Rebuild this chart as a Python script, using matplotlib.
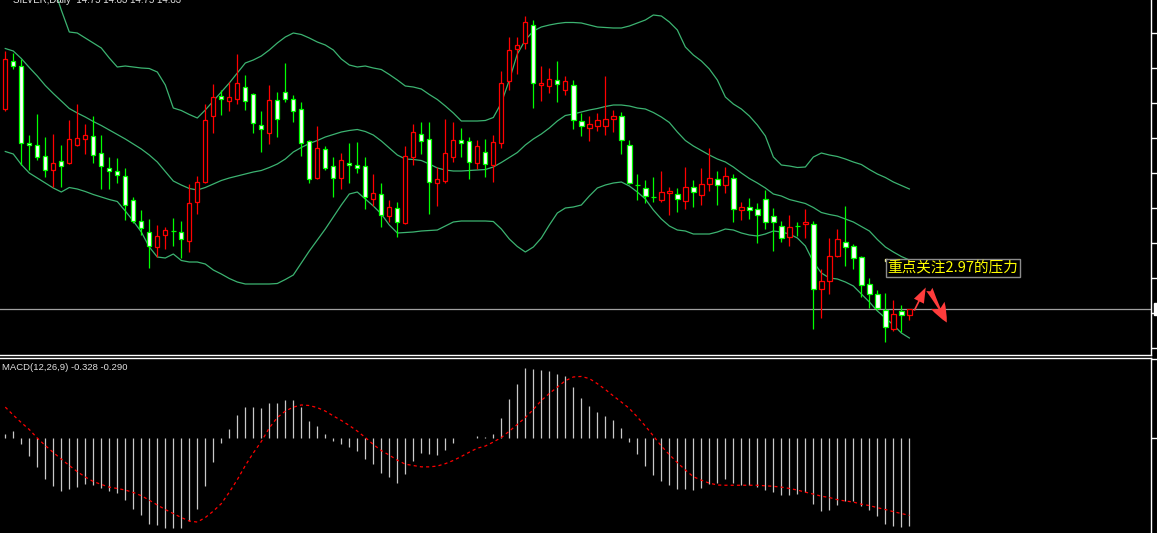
import numpy as np
import matplotlib.pyplot as plt
from matplotlib.patches import Rectangle, FancyArrowPatch

plt.rcParams['font.family'] = ['Noto Sans CJK SC', 'DejaVu Sans']

# daily candles (price)
opens = [16.91, 17.39, 17.34, 16.57, 16.55, 16.44, 16.30, 16.39, 16.37, 16.55,
         16.61, 16.64, 16.47, 16.32, 16.29, 16.24, 16.00, 15.79, 15.68, 15.53,
         15.65, 15.69, 15.68, 15.59, 15.98, 16.18, 16.84, 17.04, 16.99, 17.01,
         17.13, 17.06, 16.75, 16.67, 17.00, 17.08, 17.01, 16.91, 16.59, 16.22,
         16.51, 16.34, 16.22, 16.37, 16.35, 16.34, 16.01, 16.06, 15.84, 15.92,
         15.77, 16.43, 16.66, 16.61, 16.17, 16.19, 16.43, 16.60, 16.59, 16.37,
         16.48, 16.35, 16.57, 17.19, 17.51, 17.57, 17.75, 17.15, 17.14, 17.20,
         17.10, 17.15, 16.79, 16.72, 16.74, 16.74, 16.81, 16.84, 16.55, 16.15,
         16.12, 16.03, 16.00, 16.07, 16.06, 15.99, 16.13, 16.05, 16.16, 16.21,
         16.15, 16.22, 15.90, 15.93, 15.91, 16.01, 15.84, 15.74, 15.63, 15.74,
         15.76, 15.76, 15.11, 15.19, 15.44, 15.58, 15.54, 15.43, 15.16, 15.06,
         14.90, 14.71, 14.89, 14.85]
highs = [17.49, 17.47, 17.41, 16.65, 16.86, 16.63, 16.66, 16.55, 16.80, 16.96,
         16.76, 16.84, 16.65, 16.43, 16.42, 16.32, 16.03, 15.90, 15.81, 15.75,
         15.73, 15.82, 15.79, 16.16, 16.24, 16.96, 17.16, 17.10, 17.18, 17.46,
         17.25, 17.07, 16.89, 17.15, 17.08, 17.37, 17.05, 16.98, 16.60, 16.74,
         16.54, 16.43, 16.47, 16.57, 16.58, 16.43, 16.26, 16.17, 16.00, 15.98,
         16.54, 16.76, 16.78, 16.78, 16.33, 16.81, 16.78, 16.72, 16.63, 16.60,
         16.61, 16.65, 17.29, 17.63, 17.63, 17.84, 17.80, 17.34, 17.32, 17.39,
         17.24, 17.20, 16.87, 16.84, 16.87, 17.24, 16.90, 16.88, 16.60, 16.26,
         16.20, 16.23, 16.29, 16.13, 16.12, 16.33, 16.20, 16.32, 16.52, 16.29,
         16.33, 16.26, 15.98, 16.02, 15.97, 16.10, 15.92, 15.79, 15.85, 15.78,
         15.91, 15.79, 15.31, 15.62, 15.71, 15.94, 15.56, 15.44, 15.22, 15.10,
         15.07, 15.00, 14.95, 14.91]
lows = [16.89, 17.31, 16.35, 16.30, 16.40, 16.23, 16.13, 16.13, 16.36, 16.54,
        16.46, 16.37, 16.11, 16.11, 16.17, 15.80, 15.77, 15.65, 15.32, 15.43,
        15.51, 15.54, 15.42, 15.48, 15.86, 16.17, 16.67, 16.85, 16.89, 16.96,
        16.90, 16.67, 16.48, 16.56, 16.63, 16.98, 16.78, 16.44, 16.17, 16.21,
        16.30, 16.03, 16.11, 16.17, 16.27, 15.91, 15.94, 15.73, 15.78, 15.63,
        15.76, 16.35, 16.46, 15.86, 15.94, 16.17, 16.38, 16.43, 16.21, 16.31,
        16.23, 16.18, 16.52, 17.10, 17.26, 17.51, 16.92, 16.99, 17.07, 16.98,
        17.05, 16.71, 16.64, 16.59, 16.69, 16.65, 16.68, 16.46, 16.16, 16.00,
        15.97, 15.98, 15.98, 15.85, 15.88, 15.91, 15.93, 15.95, 16.09, 15.95,
        16.07, 15.78, 15.80, 15.81, 15.57, 15.71, 15.49, 15.58, 15.54, 15.64,
        15.62, 14.71, 14.82, 15.06, 15.43, 15.34, 15.31, 15.03, 14.92, 14.90,
        14.58, 14.69, 14.68, 14.80]
closes = [17.41, 17.34, 16.57, 16.55, 16.43, 16.30, 16.37, 16.34, 16.61, 16.62,
          16.65, 16.45, 16.34, 16.29, 16.25, 15.95, 15.79, 15.72, 15.54, 15.64,
          15.70, 15.69, 15.61, 15.97, 16.18, 16.80, 17.03, 17.01, 17.03, 17.17,
          16.99, 16.77, 16.71, 17.00, 16.81, 17.01, 16.89, 16.57, 16.21, 16.52,
          16.32, 16.22, 16.40, 16.35, 16.32, 16.03, 16.07, 15.85, 15.93, 15.78,
          16.44, 16.68, 16.59, 16.18, 16.21, 16.47, 16.60, 16.57, 16.38, 16.54,
          16.36, 16.58, 17.17, 17.50, 17.55, 17.78, 17.17, 17.17, 17.21, 17.16,
          17.19, 16.80, 16.74, 16.76, 16.80, 16.81, 16.84, 16.60, 16.17, 16.15,
          16.04, 16.03, 16.08, 16.09, 16.01, 16.13, 16.08, 16.16, 16.22, 16.15,
          16.24, 15.91, 15.93, 15.90, 15.85, 15.78, 15.78, 15.62, 15.73, 15.74,
          15.78, 15.11, 15.19, 15.44, 15.61, 15.53, 15.42, 15.15, 15.06, 14.92,
          14.73, 14.86, 14.85, 14.91]

# Bollinger bands (20,2)
bb_upper = [18.90, 18.85, 18.78, 18.68, 18.55, 18.37, 18.14, 17.90, 17.68, 17.67,
            17.62, 17.57, 17.52, 17.42, 17.33, 17.34, 17.33, 17.32, 17.315, 17.28,
            17.15, 16.92, 16.895, 16.855, 16.82, 16.90, 16.99, 17.08, 17.17, 17.27,
            17.37, 17.40, 17.44, 17.50, 17.57, 17.63, 17.67, 17.655, 17.62, 17.58,
            17.55, 17.50, 17.41, 17.35, 17.33, 17.34, 17.32, 17.305, 17.255, 17.20,
            17.14, 17.13, 17.11, 17.055, 17.005, 16.94, 16.87, 16.79, 16.79, 16.79,
            16.795, 16.825, 16.97, 17.20, 17.46, 17.60, 17.69, 17.73, 17.75, 17.765,
            17.775, 17.775, 17.77, 17.75, 17.73, 17.725, 17.72, 17.72, 17.74, 17.77,
            17.80, 17.85, 17.84, 17.78, 17.70, 17.53, 17.45, 17.39, 17.31, 17.20,
            17.03, 16.96, 16.91, 16.84, 16.75, 16.64, 16.43, 16.35, 16.34, 16.325,
            16.33, 16.43, 16.47, 16.45, 16.435, 16.41, 16.38, 16.355, 16.305, 16.26,
            16.225, 16.18, 16.145, 16.11]
bb_middle = [17.515, 17.49, 17.415, 17.325, 17.24, 17.145, 17.065, 16.99, 16.915, 16.87,
             16.83, 16.785, 16.745, 16.70, 16.655, 16.61, 16.56, 16.51, 16.45, 16.38,
             16.285, 16.19, 16.15, 16.115, 16.10, 16.125, 16.16, 16.195, 16.22, 16.24,
             16.26, 16.28, 16.295, 16.325, 16.36, 16.41, 16.48, 16.525, 16.565, 16.595,
             16.63, 16.655, 16.68, 16.695, 16.705, 16.685, 16.65, 16.59, 16.52, 16.45,
             16.41, 16.405, 16.395, 16.36, 16.32, 16.30, 16.29, 16.29, 16.295, 16.30,
             16.305, 16.33, 16.375, 16.425, 16.475, 16.55, 16.61, 16.66, 16.72, 16.79,
             16.845, 16.86, 16.88, 16.90, 16.915, 16.935, 16.95, 16.95, 16.94, 16.92,
             16.91, 16.875, 16.83, 16.775, 16.68, 16.595, 16.54, 16.495, 16.45, 16.41,
             16.38, 16.33, 16.27, 16.215, 16.17, 16.12, 16.06, 16.04, 16.005, 15.985,
             15.965, 15.925, 15.875, 15.855, 15.84, 15.81, 15.78, 15.735, 15.69, 15.605,
             15.53, 15.48, 15.435, 15.40]
bb_lower = [16.485, 16.46, 16.355, 16.27, 16.22, 16.17, 16.12, 16.08, 16.125, 16.11,
            16.085, 16.055, 16.03, 16.005, 15.985, 15.89, 15.79, 15.68, 15.53, 15.43,
            15.42, 15.46, 15.395, 15.38, 15.38, 15.36, 15.30, 15.26, 15.215, 15.18,
            15.16, 15.16, 15.16, 15.16, 15.165, 15.205, 15.25, 15.37, 15.49, 15.60,
            15.71, 15.83, 15.95, 16.06, 16.08, 16.01, 15.94, 15.86, 15.75, 15.67,
            15.675, 15.68, 15.69, 15.695, 15.70, 15.74, 15.78, 15.79, 15.79, 15.79,
            15.79, 15.785, 15.71, 15.61, 15.535, 15.48, 15.53, 15.62, 15.75, 15.87,
            15.92, 15.93, 15.95, 16.04, 16.12, 16.15, 16.17, 16.18, 16.14, 16.08,
            16.01, 15.90, 15.81, 15.74, 15.70, 15.69, 15.66, 15.66, 15.66, 15.68,
            15.71, 15.70, 15.67, 15.65, 15.64, 15.66, 15.69, 15.68, 15.66, 15.62,
            15.54, 15.38, 15.27, 15.22, 15.21, 15.18, 15.14, 15.06, 14.98, 14.89,
            14.82, 14.75, 14.67, 14.62]

# MACD(12,26,9): histogram (main) and signal
macd_main = [0.015, 0.027, -0.021, -0.068, -0.108, -0.153, -0.180, -0.198, -0.190, -0.183,
             -0.173, -0.175, -0.188, -0.198, -0.206, -0.233, -0.265, -0.289, -0.324, -0.326,
             -0.339, -0.339, -0.339, -0.310, -0.265, -0.179, -0.089, -0.018, 0.034, 0.086,
             0.116, 0.116, 0.113, 0.132, 0.132, 0.143, 0.143, 0.116, 0.065, 0.045,
             0.016, -0.010, -0.023, -0.033, -0.048, -0.078, -0.098, -0.130, -0.145, -0.170,
             -0.135, -0.086, -0.055, -0.060, -0.064, -0.045, -0.018, 0.000, 0.002, 0.008,
             0.004, 0.015, 0.075, 0.146, 0.204, 0.263, 0.259, 0.255, 0.251, 0.240,
             0.233, 0.191, 0.150, 0.120, 0.098, 0.083, 0.068, 0.038, -0.015, -0.060,
             -0.105, -0.139, -0.161, -0.176, -0.191, -0.191, -0.195, -0.188, -0.173, -0.169,
             -0.154, -0.169, -0.176, -0.176, -0.184, -0.195, -0.203, -0.214, -0.214, -0.210,
             -0.203, -0.248, -0.274, -0.270, -0.251, -0.236, -0.236, -0.255, -0.270, -0.293,
             -0.323, -0.330, -0.334, -0.328]
macd_signal = [0.116, 0.086, 0.058, 0.032, 0.000, -0.028, -0.054, -0.079, -0.103, -0.126,
               -0.146, -0.163, -0.174, -0.184, -0.189, -0.195, -0.204, -0.216, -0.233, -0.251,
               -0.268, -0.283, -0.298, -0.311, -0.315, -0.298, -0.274, -0.246, -0.203, -0.156,
               -0.103, -0.056, -0.013, 0.038, 0.077, 0.101, 0.116, 0.124, 0.122, 0.114,
               0.101, 0.083, 0.066, 0.047, 0.026, 0.002, -0.024, -0.047, -0.064, -0.083,
               -0.098, -0.103, -0.108, -0.108, -0.105, -0.096, -0.084, -0.069, -0.053, -0.038,
               -0.030, -0.015, 0.002, 0.026, 0.051, 0.077, 0.107, 0.141, 0.167, 0.191,
               0.215, 0.229, 0.231, 0.223, 0.204, 0.182, 0.158, 0.135, 0.111, 0.079,
               0.045, 0.008, -0.030, -0.062, -0.092, -0.120, -0.145, -0.158, -0.169, -0.176,
               -0.177, -0.177, -0.177, -0.177, -0.177, -0.179, -0.181, -0.184, -0.189, -0.195,
               -0.203, -0.210, -0.218, -0.223, -0.231, -0.236, -0.240, -0.248, -0.253, -0.261,
               -0.268, -0.276, -0.283, -0.290]

note_text = '重点关注2.97的压力'
title_text = 'SILVER,Daily  14.75 14.83 14.75 14.83'
macd_text = 'MACD(12,26,9) -0.328 -0.290'

BULL = '#ff0000'
BEAR = '#00ff00'
BAND = '#3cb371'

W, H = 1157, 533
fig = plt.figure(figsize=(W / 100, H / 100), dpi=100, facecolor='black')
ax = fig.add_axes([0, (H - 355) / H, 1151 / W, 355 / H], facecolor='black')
ax2 = fig.add_axes([0, 0, 1151 / W, (H - 357.5) / H], facecolor='black')

n = len(closes)
x = np.arange(n)
xlim = (-0.66, 143.2)

# --- price panel ---
for i in range(n):
    o, h, l, c = opens[i], highs[i], lows[i], closes[i]
    col = BULL if c > o else BEAR
    ax.vlines(i, l, h, color=col, lw=0.9, zorder=2)
    if c == o:
        ax.hlines(o, i - 0.3, i + 0.3, color=col, lw=0.9, zorder=3)
    else:
        face = 'black' if c > o else 'white'
        ax.add_patch(Rectangle((i - 0.27, min(o, c)), 0.54, abs(c - o),
                               facecolor=face, edgecolor=col, lw=0.9, zorder=3))

ax.plot(x, bb_upper, color=BAND, lw=0.9, zorder=1)
ax.plot(x, bb_middle, color=BAND, lw=0.9, zorder=1)
ax.plot(x, bb_lower, color=BAND, lw=0.9, zorder=1)

ax.axhline(closes[-1], color='#a0a0a0', lw=0.9, zorder=1)

ax.set_xlim(*xlim)
ax.set_ylim(14.45, 18.00)
ax.set_yticks([17.67, 17.32, 16.97, 16.62, 16.27, 15.92, 15.57, 15.22, 14.87, 14.52])
ax.set_xticks([])
ax.yaxis.tick_right()
ax.tick_params(axis='y', colors='white', length=4, width=1, labelright=False)
for s in ['top', 'left']:
    ax.spines[s].set_visible(False)
for s in ['bottom', 'right']:
    ax.spines[s].set_color('white')
    ax.spines[s].set_linewidth(1)

# current price tag on the scale (cut by the window edge)
ax.text(1.004, closes[-1], '14.91', transform=ax.get_yaxis_transform(),
        color='black', fontsize=7, va='center', ha='left', clip_on=False,
        bbox=dict(boxstyle='square,pad=0.15', fc='white', ec='white'))

# text note with yellow text
note_x, note_y = 110.1, 15.40
ax.plot(note_x, note_y, 's', ms=2, color='#ffffa0', zorder=5)
ax.text(note_x + 0.15, note_y - 0.01, note_text, color='#ffff00', fontsize=10.5,
        va='top', ha='left', zorder=5,
        bbox=dict(boxstyle='square,pad=0.12', fc='black', ec='#8c8c8c', lw=1))

# red arrows
ax.add_patch(FancyArrowPatch((113.46, 14.87), (115.2, 15.15),
                             arrowstyle='simple,head_length=11,head_width=8,tail_width=1.2',
                             color='#ff3c3c', lw=0, zorder=6))
ax.add_patch(FancyArrowPatch((115.34, 15.13), (117.84, 14.75),
                             arrowstyle='fancy,head_length=14,head_width=11,tail_width=5',
                             color='#ff3c3c', lw=0, zorder=6))

fig.text(13 / W, 1 - 3 / H, title_text, color='#e0e0e0', fontsize=7,
         family='Liberation Sans', va='baseline', ha='left')

# --- MACD panel ---
ax2.vlines(x, 0, macd_main, color='#c8c8c8', lw=0.9)
ax2.plot(x, macd_signal, color='#ff0000', lw=0.9, ls=(0, (2.5, 2.5)))
ax2.set_xlim(*xlim)
ax2.set_ylim(-0.356, 0.302)
ax2.set_xticks([])
ax2.set_yticks([0.296, 0.0])
ax2.yaxis.tick_right()
ax2.tick_params(axis='y', colors='white', length=4, width=1, labelright=False)
for s in ['bottom', 'left']:
    ax2.spines[s].set_visible(False)
for s in ['top', 'right']:
    ax2.spines[s].set_color('white')
    ax2.spines[s].set_linewidth(1)
ax2.text(0.002, 0.945, macd_text, transform=ax2.transAxes, color='#e0e0e0',
         fontsize=6.8, family='Liberation Sans', va='center', ha='left')

fig.savefig('out.png', dpi=100, facecolor='black')
